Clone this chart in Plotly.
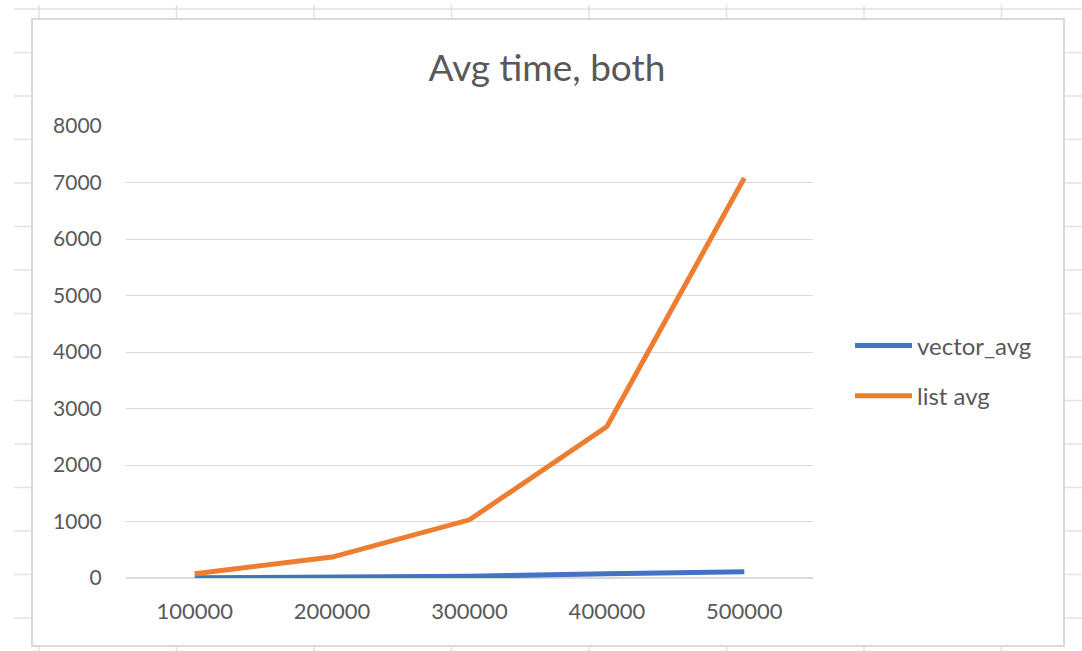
import plotly.graph_objects as go

W, H = 1082, 651

categories = ["100000", "200000", "300000", "400000", "500000"]
vector_avg = [5, 15, 30, 75, 110]
list_avg = [75, 370, 1030, 2680, 7080]
y_ticks = [0, 1000, 2000, 3000, 4000, 5000, 6000, 7000, 8000]

TEXT = "#595959"
FONT = "Lato"

fig = go.Figure()
fig.add_trace(go.Scatter(x=categories, y=vector_avg, mode="lines", name="vector_avg",
                         line=dict(color="#4472C4", width=5, shape="linear"),
                         legendgroup="a"))
fig.add_trace(go.Scatter(x=categories, y=list_avg, mode="lines", name="list avg",
                         line=dict(color="#ED7D31", width=5, shape="linear"),
                         legendgroup="b"))

def px(x):
    return x / W

def py(y):
    return 1 - y / H

shapes = []
# spreadsheet grid behind the chart
rows = [9 + 43.5 * i for i in range(15)]
cols = [39 + 137.5 * i for i in range(8)]
for r in rows:
    shapes.append(dict(type="line", xref="paper", yref="paper", x0=px(14), x1=1, y0=py(r), y1=py(r),
                       line=dict(color="#e2e2e2", width=1.5), layer="below"))
for c in cols:
    shapes.append(dict(type="line", xref="paper", yref="paper", x0=px(c), x1=px(c), y0=0, y1=py(5),
                       line=dict(color="#e2e2e2", width=1.5), layer="below"))
# chart area
shapes.append(dict(type="rect", xref="paper", yref="paper", x0=px(32), x1=px(1064), y0=py(646), y1=py(19),
                   fillcolor="white", line=dict(color="#d9d9d9", width=2), layer="below"))

fig.update_layout(
    width=W, height=H,
    margin=dict(l=0, r=0, t=0, b=0, autoexpand=False),
    paper_bgcolor="white",
    plot_bgcolor="rgba(0,0,0,0)",
    shapes=shapes,
    font=dict(family=FONT, color=TEXT, size=21),
    title=dict(text="Avg time, both", x=px(547), xanchor="center", y=py(68), yanchor="middle",
               font=dict(family=FONT, size=37, color=TEXT)),
    xaxis=dict(domain=[px(126), px(813)], type="category", range=[-0.5, 4.5],
               automargin=False,
               showgrid=False, showline=False, zeroline=False,
               ticks="outside", ticklen=14, tickcolor="rgba(0,0,0,0)",
               tickfont=dict(family=FONT, size=22, color=TEXT)),
    yaxis=dict(domain=[py(578), py(126)], range=[0, 8000], tickvals=y_ticks,
               automargin=False,
               showgrid=True, gridcolor="#d9d9d9", gridwidth=1,
               zeroline=True, zerolinecolor="#d9d9d9", zerolinewidth=2,
               showline=False,
               ticks="outside", ticklen=19, tickcolor="rgba(0,0,0,0)",
               tickfont=dict(family=FONT, size=21, color=TEXT)),
    showlegend=True,
    legend=dict(x=px(850), y=py(371), xanchor="left", yanchor="middle",
                bgcolor="rgba(0,0,0,0)", font=dict(family=FONT, size=24, color=TEXT),
                tracegroupgap=16, itemwidth=57),
)

fig.write_html("out.html", config={"displayModeBar": False},
               post_script="document.body.style.margin='0';")
